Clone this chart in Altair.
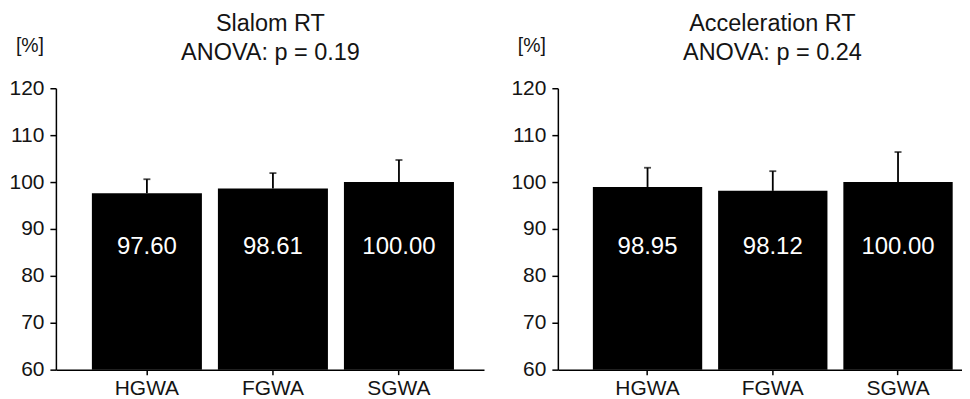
import altair as alt
import pandas as pd

categories = ["HGWA", "FGWA", "SGWA"]

slalom_means = [97.60, 98.61, 100.00]
slalom_sd = [3.0, 3.3, 4.7]
slalom_title = ["Slalom RT", "ANOVA: p = 0.19"]

accel_means = [98.95, 98.12, 100.00]
accel_sd = [4.1, 4.2, 6.4]
accel_title = ["Acceleration RT", "ANOVA: p = 0.24"]

y_ticks = [60, 70, 80, 90, 100, 110, 120]
unit_label = "[%]"

FONT = "Liberation Sans"
TXT = "#141414"


def panel(means, sds, title, width, p_outer, align):
    df = pd.DataFrame({
        "cat": categories,
        "mean": means,
        "hi": [m + s for m, s in zip(means, sds)],
        "label": [f"{m:.2f}" for m in means],
    })
    x = alt.X(
        "cat:N",
        sort=categories,
        title=None,
        scale=alt.Scale(paddingInner=0.127, paddingOuter=p_outer, align=align),
        axis=alt.Axis(
            labelAngle=0, labelFont=FONT, labelFontSize=21, labelColor=TXT,
            domainColor="black", domainWidth=1.5, tickColor="black",
            tickWidth=1.5, tickSize=5, labelPadding=3,
        ),
    )
    yscale = alt.Scale(domain=[60, 120], zero=False, nice=False)
    yaxis = alt.Axis(
        values=y_ticks, labelFont=FONT, labelFontSize=21, labelColor=TXT,
        domainColor="black", domainWidth=1.5, tickColor="black",
        tickWidth=1.5, tickSize=6, labelPadding=6, grid=False,
    )
    base = alt.Chart(df)
    bars = base.mark_bar(color="black", clip=True).encode(
        x=x, y=alt.Y("mean:Q", scale=yscale, axis=yaxis, title=None)
    )
    err = base.mark_rule(color="black", strokeWidth=1.8).encode(
        x=x, y=alt.Y("mean:Q"), y2="hi:Q"
    )
    cap = base.mark_tick(color="black", thickness=1.8, size=7).encode(
        x=x, y=alt.Y("hi:Q")
    )
    labels = base.mark_text(color="white", fontSize=24, font=FONT).encode(
        x=x, y=alt.datum(86.1), text="label:N"
    )
    t1 = alt.Chart(pd.DataFrame({"t": [title[0]]})).mark_text(
        fontSize=23.5, font=FONT, color=TXT
    ).encode(text="t:N", x=alt.value(215), y=alt.value(-64.5))
    t2 = alt.Chart(pd.DataFrame({"t": [title[1]]})).mark_text(
        fontSize=23.5, font=FONT, color=TXT
    ).encode(text="t:N", x=alt.value(215), y=alt.value(-35.5))
    unit = alt.Chart(pd.DataFrame({"t": [unit_label]})).mark_text(
        fontSize=19.5, font=FONT, color=TXT
    ).encode(text="t:N", x=alt.value(-26), y=alt.value(-42.5))
    return alt.layer(bars, err, cap, labels, t1, t2, unit).properties(
        width=width, height=282
    )


left = panel(slalom_means, slalom_sd, slalom_title, 429, 0.262, 0.545)
right = panel(accel_means, accel_sd, accel_title, 405, 0.177, 0.79)

chart = alt.hconcat(left, right, spacing=26).properties(
    padding={"left": 0, "top": 3, "right": 0, "bottom": 0},
    background="white",
).configure_view(stroke=None)

chart.save("out.html", embed_options={"renderer": "svg", "actions": False})
